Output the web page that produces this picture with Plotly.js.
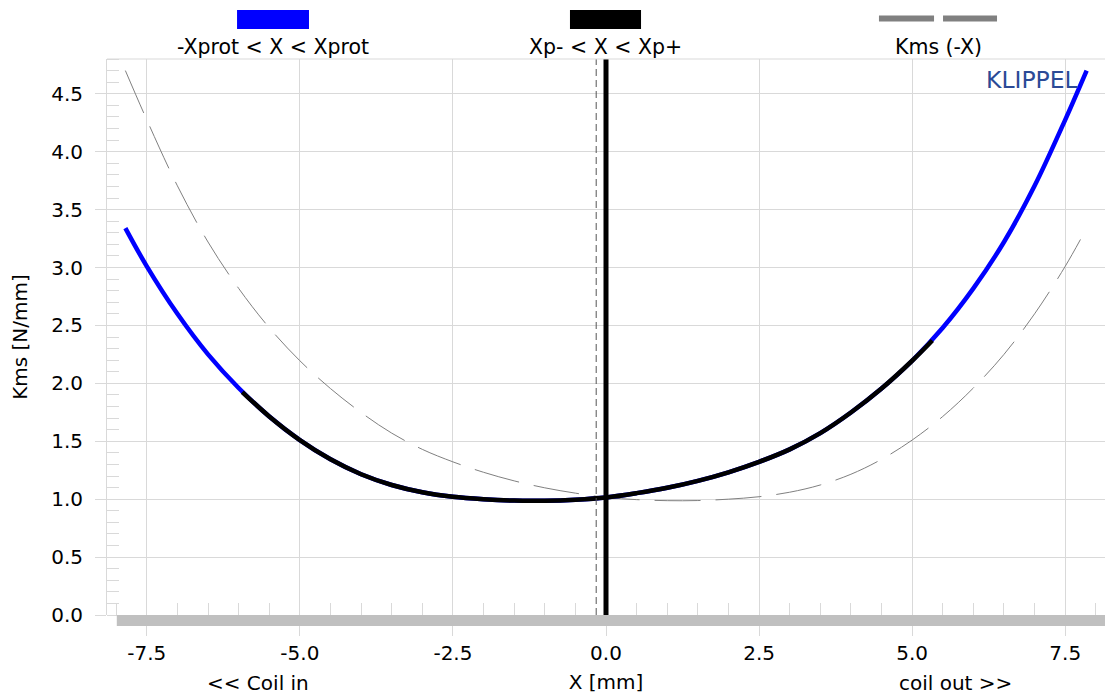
<!DOCTYPE html>
<html>
<head>
<meta charset="utf-8">
<script src="https://cdn.plot.ly/plotly-3.0.1.min.js"></script>
<style>html,body{margin:0;padding:0;background:#fff;}#chart{width:1105px;height:696px;}</style>
</head>
<body>
<div id="chart"></div>
<script>
// ---- data ----
const xPos = [-7.85, -7.5, -7.0, -6.5, -6.0, -5.5, -5.0, -4.5, -4.0, -3.5, -3.0, -2.5, -2.0, -1.5, -1.0, -0.5, 0.0, 0.5, 1.0, 1.5, 2.0, 2.5, 3.0, 3.5, 4.0, 4.5, 5.0, 5.5, 6.0, 6.5, 7.0, 7.5, 7.85];
const kms  = [3.34, 3.01, 2.60, 2.25, 1.96, 1.714, 1.51, 1.344, 1.215, 1.1225, 1.06, 1.021, 1.00, 0.988, 0.987, 0.996, 1.015, 1.052, 1.098, 1.158, 1.232, 1.322, 1.43, 1.57, 1.748, 1.955, 2.195, 2.48, 2.82, 3.22, 3.705, 4.275, 4.70];
const xpMinus = -5.94;       // Xp-
const xpPlus = 5.33;         // Xp+
const kmsAtXpMinus = 1.925;
const kmsAtXpPlus = 2.37;
const xMarker = 0.0;         // thick vertical marker
const xDashedMarker = -0.16; // thin dashed vertical marker
const yRange = [0, 4.8];
const xRange = [-8.15, 8.15];
const xTickVals = [-7.5, -5.0, -2.5, 0.0, 2.5, 5.0, 7.5];
const xTickText = ['-7.5', '-5.0', '-2.5', '0.0', '2.5', '5.0', '7.5'];
const yTickVals = [0.0, 0.5, 1.0, 1.5, 2.0, 2.5, 3.0, 3.5, 4.0, 4.5];
const yTickText = ['0.0', '0.5', '1.0', '1.5', '2.0', '2.5', '3.0', '3.5', '4.0', '4.5'];
const legendLabels = ['-Xprot < X < Xprot', 'Xp- < X < Xp+', 'Kms (-X)'];

// derived series
const xMirror = xPos.map(v => -v).reverse();
const kmsMirror = kms.slice().reverse();
const xIn = [xpMinus], kIn = [kmsAtXpMinus];
xPos.forEach((v, i) => { if (v > xpMinus && v < xpPlus) { xIn.push(v); kIn.push(kms[i]); } });
xIn.push(xpPlus); kIn.push(kmsAtXpPlus);

const FONT = 'DejaVu Sans, Liberation Sans, Arial, sans-serif';
const GRID = '#d9d9d9';

const traces = [
  { x: xMirror, y: kmsMirror, type: 'scatter', mode: 'lines', name: legendLabels[2],
    line: { color: '#808080', width: 1, dash: '46px,15px', shape: 'spline', smoothing: 1 } },
  { x: xPos, y: kms, type: 'scatter', mode: 'lines', name: legendLabels[0],
    line: { color: '#0000ff', width: 4.5, shape: 'spline', smoothing: 1 } },
  { x: xIn, y: kIn, type: 'scatter', mode: 'lines', name: legendLabels[1],
    line: { color: '#000000', width: 4.5, shape: 'spline', smoothing: 1 } },
  { x: [xDashedMarker, xDashedMarker], y: yRange, type: 'scatter', mode: 'lines', showlegend: false,
    line: { color: '#555555', width: 1, dash: '7px,4px' } },
  { x: [xMarker, xMarker], y: yRange, type: 'scatter', mode: 'lines', showlegend: false,
    line: { color: '#000000', width: 5 } }
];

const layout = {
  width: 1105, height: 696,
  margin: { l: 107, r: 0, t: 59, b: 81 },
  paper_bgcolor: '#ffffff', plot_bgcolor: '#ffffff',
  showlegend: false,
  font: { family: FONT, size: 20, color: '#000' },
  xaxis: {
    range: xRange, tickmode: 'array', tickvals: xTickVals, ticktext: xTickText,
    layer: 'below traces',
    showgrid: true, gridcolor: GRID, gridwidth: 1, zeroline: false,
    ticks: 'outside', ticklen: 20, tickcolor: GRID, tickwidth: 1,
    minor: { ticks: 'inside', dtick: 0.5, tick0: 0, ticklen: 12, tickcolor: GRID, showgrid: false },
    showline: false,
    tickfont: { family: FONT, size: 20, color: '#000' },
    title: { text: 'X [mm]', standoff: 10, font: { family: FONT, size: 20, color: '#000' } }
  },
  yaxis: {
    range: yRange, tickmode: 'array', tickvals: yTickVals, ticktext: yTickText,
    layer: 'below traces',
    showgrid: true, gridcolor: GRID, gridwidth: 1, zeroline: false,
    ticks: 'outside', ticklen: 11, tickcolor: GRID, tickwidth: 1,
    minor: { ticks: 'inside', dtick: 0.1, tick0: 0, ticklen: 12, tickcolor: GRID, showgrid: false },
    showline: true, linecolor: GRID, linewidth: 1,
    ticklabelstandoff: 8,
    tickfont: { family: FONT, size: 20, color: '#000' },
    title: { text: 'Kms [N/mm]', standoff: 18, font: { family: FONT, size: 20, color: '#000' } }
  },
  shapes: [
    { type: 'line', xref: 'paper', yref: 'paper', x0: 0, x1: 1, y0: 1, y1: 1, line: { color: GRID, width: 1 }, layer: 'above' },
    { type: 'rect', xref: 'x', yref: 'paper', x0: -7.99, x1: xRange[1], y0: -0.0198, y1: 0, fillcolor: '#c0c0c0', line: { width: 0 }, layer: 'above' },
    { type: 'rect', xref: 'paper', yref: 'paper', x0: 0.1303, x1: 0.2024, y0: 1.054, y1: 1.088, fillcolor: '#0000ff', line: { width: 0 } },
    { type: 'rect', xref: 'paper', yref: 'paper', x0: 0.4639, x1: 0.5351, y0: 1.054, y1: 1.088, fillcolor: '#000000', line: { width: 0 } },
    { type: 'line', xref: 'paper', yref: 'paper', x0: 0.7735, x1: 0.8287, y0: 1.0729, y1: 1.0729, line: { color: '#808080', width: 6 } },
    { type: 'line', xref: 'paper', yref: 'paper', x0: 0.8377, x1: 0.8918, y0: 1.0729, y1: 1.0729, line: { color: '#808080', width: 6 } }
  ],
  annotations: [
    { text: legendLabels[0], xref: 'paper', yref: 'paper', x: 0.1663, y: 1.0216, xanchor: 'center', yanchor: 'middle', showarrow: false, font: { family: FONT, size: 20.5, color: '#000' } },
    { text: legendLabels[1], xref: 'paper', yref: 'paper', x: 0.4990, y: 1.0216, xanchor: 'center', yanchor: 'middle', showarrow: false, font: { family: FONT, size: 20.5, color: '#000' } },
    { text: legendLabels[2], xref: 'paper', yref: 'paper', x: 0.8327, y: 1.0216, xanchor: 'center', yanchor: 'middle', showarrow: false, font: { family: FONT, size: 20.5, color: '#000' } },
    { text: 'KLIPPEL', xref: 'paper', yref: 'paper', x: 0.975, y: 0.963, xanchor: 'right', yanchor: 'middle', showarrow: false, font: { family: FONT, size: 23.5, color: '#2b4a96' } },
    { text: '<< Coil in', xref: 'paper', yref: 'paper', x: 0.1513, y: -0.1223, xanchor: 'center', yanchor: 'middle', showarrow: false, font: { family: FONT, size: 20, color: '#000' } },
    { text: 'coil out >>', xref: 'paper', yref: 'paper', x: 0.8497, y: -0.1223, xanchor: 'center', yanchor: 'middle', showarrow: false, font: { family: FONT, size: 20, color: '#000' } }
  ]
};

Plotly.newPlot('chart', traces, layout, { staticPlot: true, displayModeBar: false });
</script>
</body>
</html>
